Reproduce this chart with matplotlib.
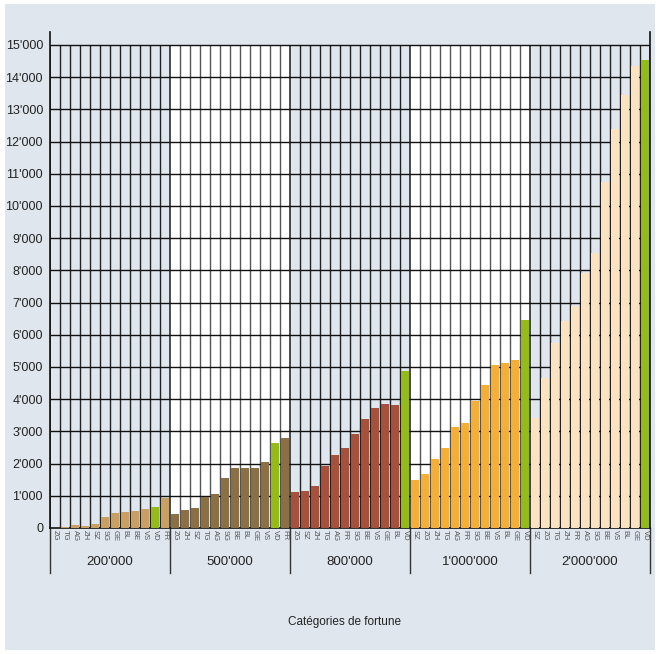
import matplotlib
matplotlib.use("Agg")
import matplotlib.pyplot as plt
from matplotlib import font_manager
from matplotlib.patches import Rectangle
from matplotlib.ticker import FuncFormatter
from matplotlib.transforms import blended_transform_factory

# fortune categories and cantons in each group (order as drawn)
groups = ["200'000", "500'000", "800'000", "1'000'000", "2'000'000"]
cantons_200 = ["ZG", "TG", "AG", "ZH", "SZ", "SG", "GE", "BL", "BE", "VS", "VD", "FR"]
cantons_500 = ["ZG", "ZH", "SZ", "TG", "AG", "SG", "BE", "BL", "GE", "VS", "VD", "FR"]
cantons_800 = ["ZG", "SZ", "ZH", "TG", "AG", "FR", "SG", "BE", "VS", "GE", "BL", "VD"]
cantons_1m = ["SZ", "ZG", "ZH", "TG", "AG", "FR", "SG", "BE", "VS", "BL", "GE", "VD"]
cantons_2m = ["SZ", "ZG", "TG", "ZH", "FR", "AG", "SG", "BE", "VS", "BL", "GE", "VD"]

values_200 = [15, 25, 100, 70, 135, 340, 460, 490, 530, 580, 645, 920]
values_500 = [435, 565, 620, 960, 1060, 1555, 1855, 1855, 1855, 2040, 2630, 2795]
values_800 = [1115, 1145, 1300, 1920, 2260, 2475, 2905, 3370, 3740, 3835, 3805, 4885]
values_1m = [1475, 1665, 2130, 2475, 3130, 3255, 3940, 4440, 5060, 5125, 5220, 6465]
values_2m = [3400, 4660, 5730, 6430, 6880, 7920, 8540, 10750, 12375, 13445, 14345, 14520]

group_colors = ["#c9a063", "#8b7045", "#a5513b", "#f5af36", "#fbe3c1"]
highlight = "VD"
highlight_color = "#95bb19"
bg = "#dfe6ed"

names = {f.name for f in font_manager.fontManager.ttflist}
font = "Liberation Sans Narrow" if "Liberation Sans Narrow" in names else "Liberation Sans"
plt.rcParams["font.family"] = [font, "DejaVu Sans"]

cantons = [cantons_200, cantons_500, cantons_800, cantons_1m, cantons_2m]
values = [values_200, values_500, values_800, values_1m, values_2m]

fig = plt.figure(figsize=(6.6, 6.54), dpi=100)
fig.patch.set_facecolor("white")
fig.patches.append(Rectangle((5 / 660, 4 / 654), 650 / 660, 646 / 654,
                             transform=fig.transFigure, facecolor=bg,
                             edgecolor="none", zorder=-10))

ax = fig.add_axes([50 / 660, 126 / 654, 600 / 660, 496 / 654])
ax.set_facecolor("none")

n = len(cantons_200)
ymax = 15000
xs, labels = [], []
for g, (names_g, vals, col) in enumerate(zip(cantons, values, group_colors)):
    start = g * n
    inner = [start + i - 0.5 for i in range(1, n)]
    if g % 2 == 1:
        ax.fill_between([start - 0.5, start + n - 0.5], 0, ymax,
                        color="white", zorder=0, linewidth=0)
        line_col = "#555555"
    else:
        line_col = "#222222"
    ax.vlines(inner, 0, ymax, color=line_col, linewidth=1.0, zorder=1)
    pos = [start + i for i in range(n)]
    colors = [highlight_color if c == highlight else col for c in names_g]
    ax.bar(pos, vals, width=0.72, color=colors, zorder=3)
    xs += pos
    labels += names_g

total = n * len(groups)
ax.vlines([g * n - 0.5 for g in range(len(groups) + 1)], 0, ymax,
          color="#1a1a1a", linewidth=1.1, zorder=1)
ax.hlines(range(1000, ymax + 1, 1000), -0.5, total - 0.5, color="#111111",
          linewidth=1.0, zorder=2)

ax.set_xlim(-0.5, total - 0.5)
ax.set_ylim(0, 15400)
ax.set_yticks(range(0, ymax + 1, 1000))
ax.yaxis.set_major_formatter(FuncFormatter(lambda v, p: f"{int(v):,}".replace(",", "'")))
ax.tick_params(axis="y", length=0, pad=5, labelsize=9, labelcolor="#222222")
ax.set_xticks(xs)
ax.set_xticklabels(labels, rotation=-90, fontsize=5.5, color="#555555")
ax.tick_params(axis="x", length=0, pad=1.5)

for side in ["left", "right", "bottom"]:
    ax.spines[side].set_color("#111111")
    ax.spines[side].set_linewidth(1.2)
ax.spines["top"].set_visible(False)

trans = blended_transform_factory(ax.transData, ax.transAxes)
for g, name in enumerate(groups):
    ax.text(g * n + n / 2 - 0.5, -0.068, name, transform=trans, ha="center",
            va="center", fontsize=9.5, color="#222222")
for g in range(len(groups) + 1):
    ax.plot([g * n - 0.5] * 2, [0, -0.091], transform=trans, color="#333333",
            linewidth=1.0, clip_on=False)

fig.text(344 / 660, 32 / 654, "Catégories de fortune", ha="center", va="center",
         fontsize=8.5, color="#222222")

fig.savefig("out.png", dpi=100, facecolor=fig.get_facecolor())
